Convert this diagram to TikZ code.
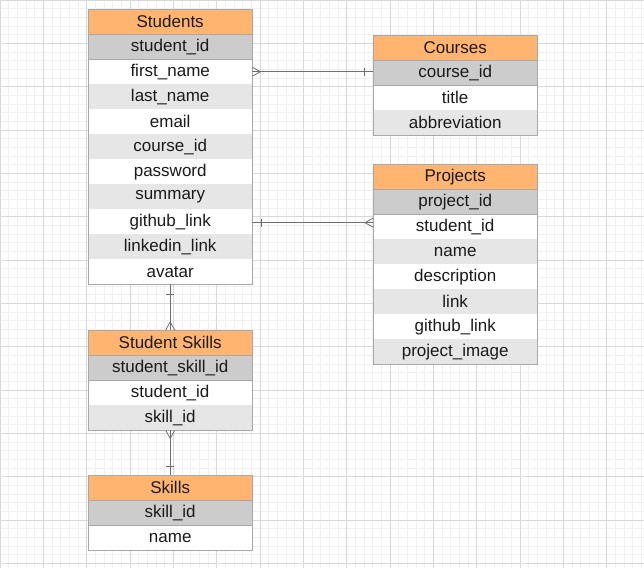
\documentclass[tikz,border=0pt]{standalone}
\usepackage{fontspec}
\setmainfont{Liberation Sans}
\definecolor{hdr}{HTML}{FFB570}
\definecolor{pk}{HTML}{CCCCCC}
\definecolor{alt}{HTML}{E6E6E6}
\definecolor{bord}{HTML}{A8A8A8}
\definecolor{txt}{HTML}{1A1A1A}
\definecolor{gminor}{HTML}{F0F0F0}
\definecolor{gmajor}{HTML}{D8D8D8}
\definecolor{conn}{HTML}{6E6E6E}
\newcommand{\ertab}[5]{%
  \node[cell,fill=hdr] (#10) at (#2,#3) {#4};
  \foreach \f [count=\i] in {#5}{%
    \ifnum\i=1 \def\fc{pk}\else\ifodd\i\def\fc{alt}\else\def\fc{white}\fi\fi
    \node[cell,fill=\fc] (#1\i) at (#2,{#3+25*\i}) {\f};
  }%
}
\begin{document}
\begin{tikzpicture}[x=1pt,y=-1pt,
  cell/.style={minimum width=164pt,minimum height=25pt,inner sep=0pt,anchor=north west,
    font=\fontsize{17}{20}\selectfont,text=txt},
  tborder/.style={draw=bord,line width=0.8pt},
  sep/.style={draw=bord,line width=0.6pt},
  conn/.style={draw=conn,line width=0.8pt},
  minorg/.style={draw=gminor,line width=0.5pt},
  majorg/.style={draw=gmajor,line width=0.6pt}]
\useasboundingbox (0,0) rectangle (644,568);
\fill[white] (0,0) rectangle (644,568);
% grid
\foreach \k in {0,...,74} \draw[minorg] ({\k*8.6667},0) -- ({\k*8.6667},568);
\foreach \k in {0,...,65} \draw[minorg] (0,{\k*8.6667}) -- (644,{\k*8.6667});
\foreach \k in {0,...,14} \draw[majorg] ({\k*43.333},0) -- ({\k*43.333},568);
\foreach \k in {0,...,13} \draw[majorg] (0,{\k*43.333}) -- (644,{\k*43.333});
% tables
\ertab{s}{88}{9}{Students}{student\_id,first\_name,last\_name,email,course\_id,password,summary,github\_link,linkedin\_link,avatar}
\ertab{c}{373}{35}{Courses}{course\_id,title,abbreviation}
\ertab{p}{373}{164}{Projects}{project\_id,student\_id,name,description,link,github\_link,project\_image}
\ertab{t}{88}{330}{Student Skills}{student\_skill\_id,student\_id,skill\_id}
\ertab{k}{88}{475}{Skills}{skill\_id,name}
% outlines and separators
\foreach \n/\m in {s/10,c/3,p/7,t/3,k/2}{
  \draw[sep] (\n0.south west) -- (\n0.south east);
  \draw[sep] (\n1.south west) -- (\n1.south east);
  \draw[tborder] (\n0.north west) rectangle (\n\m.south east);
}
% connectors
% Students - Courses
\draw[conn] (s2.east) -- (s2.east -| c1.west);
\draw[conn] ([yshift=4.5pt]s2.east) -- ([xshift=8pt]s2.east) -- ([yshift=-4.5pt]s2.east);
\draw[conn] ([xshift=-9pt,yshift=4pt]s2.east -| c1.west) -- ([xshift=-9pt,yshift=-4pt]s2.east -| c1.west);
% Students - Projects
\draw[conn] ([yshift=-1pt]s8.east) -- ([yshift=-1pt]s8.east -| p0.west);
\draw[conn] ([xshift=9pt,yshift=3pt]s8.east) -- ([xshift=9pt,yshift=-5pt]s8.east);
\draw[conn] ([yshift=3.5pt]s8.east -| p0.west) -- ([xshift=-8pt,yshift=-1pt]s8.east -| p0.west) -- ([yshift=-5.5pt]s8.east -| p0.west);
% Students - Student Skills
\draw[conn] (s10.south) -- (t0.north);
\draw[conn] ([xshift=-4pt,yshift=-10pt]s10.south) -- ([xshift=4pt,yshift=-10pt]s10.south);
\draw[conn] ([xshift=-4.5pt]t0.north) -- ([yshift=8pt]t0.north) -- ([xshift=4.5pt]t0.north);
% Student Skills - Skills
\draw[conn] (t3.south) -- (k0.north);
\draw[conn] ([xshift=-4.5pt]t3.south) -- ([yshift=-8pt]t3.south) -- ([xshift=4.5pt]t3.south);
\draw[conn] ([xshift=-4pt,yshift=9pt]k0.north) -- ([xshift=4pt,yshift=9pt]k0.north);
\end{tikzpicture}
\end{document}
